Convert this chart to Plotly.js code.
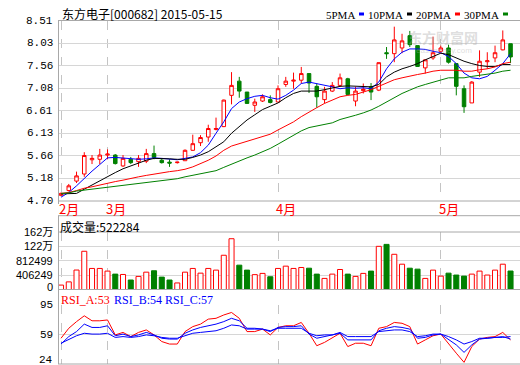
<!DOCTYPE html>
<html><head><meta charset="utf-8">
<script src="https://cdn.plot.ly/plotly-3.0.1.min.js"></script>
<style>html,body{margin:0;padding:0;background:#fff;}#chart{width:520px;height:365px;}</style>
</head><body><div id="chart"></div>
<script>
// ---- data ----
const openP  = [4.82,4.92,5.12,5.27,5.57,5.58,5.67,5.67,5.44,5.58,5.53,5.54,5.70,5.56,5.52,5.51,5.55,5.77,5.93,6.05,6.21,6.27,6.93,7.23,7.00,6.72,6.81,6.84,6.79,7.16,7.23,7.25,7.39,7.12,6.84,7.02,7.14,7.28,6.81,7.03,7.11,7.04,7.83,7.81,7.93,8.19,7.98,7.51,7.72,7.86,7.93,7.60,7.07,6.77,7.42,7.64,7.72,7.89,8.02];
const highP  = [4.88,5.06,5.32,5.73,5.67,5.80,5.79,5.69,5.67,5.63,5.67,5.80,5.87,5.60,5.58,5.53,5.79,6.10,6.09,6.31,6.46,6.84,7.42,7.32,7.00,6.86,6.95,6.93,7.14,7.32,7.41,7.53,7.39,7.18,7.11,7.21,7.39,7.30,7.11,7.18,7.19,7.62,7.95,8.38,8.23,8.29,7.98,7.68,8.17,7.98,8.00,7.61,7.14,7.23,7.88,7.84,7.98,8.30,8.02];
const lowP   = [4.80,4.90,5.08,5.21,5.48,5.48,5.58,5.47,5.42,5.48,5.42,5.50,5.58,5.49,5.42,5.49,5.55,5.76,5.86,5.95,6.19,6.26,6.74,6.88,6.75,6.58,6.79,6.76,6.79,7.11,7.07,7.18,6.98,6.67,6.76,7.00,7.11,6.93,6.70,6.97,6.83,7.02,7.70,7.63,7.82,7.95,7.53,7.39,7.68,7.81,7.60,6.93,6.56,6.77,7.32,7.49,7.63,7.88,7.61];
const closeP = [4.86,5.02,5.23,5.66,5.60,5.67,5.69,5.49,5.60,5.51,5.60,5.70,5.62,5.51,5.50,5.52,5.77,5.91,6.04,6.23,6.23,6.83,7.14,7.02,6.76,6.79,6.90,6.78,7.07,7.23,7.25,7.39,7.19,6.90,7.02,7.14,7.30,6.95,7.02,7.06,7.00,7.62,7.81,8.10,8.08,8.00,7.54,7.68,7.83,7.93,7.63,7.12,6.69,7.21,7.65,7.66,7.83,8.10,7.74];
const ma5  = [4.78,4.88,5.02,5.18,5.33,5.47,5.61,5.62,5.61,5.60,5.58,5.59,5.61,5.60,5.58,5.57,5.60,5.63,5.72,5.88,6.13,6.37,6.65,6.79,6.86,6.91,6.93,6.88,6.85,6.93,7.04,7.18,7.21,7.18,7.14,7.11,7.07,7.09,7.08,7.09,7.07,7.21,7.49,7.70,7.84,7.91,7.91,7.90,7.86,7.83,7.75,7.60,7.40,7.30,7.28,7.33,7.46,7.60,7.81];
const ma10 = [4.85,4.85,4.86,4.95,5.04,5.13,5.21,5.30,5.38,5.44,5.49,5.56,5.60,5.60,5.59,5.58,5.58,5.62,5.67,5.74,5.84,5.95,6.13,6.28,6.41,6.52,6.63,6.70,6.77,6.88,6.97,7.02,7.02,7.02,7.05,7.09,7.12,7.13,7.12,7.11,7.11,7.16,7.32,7.42,7.49,7.54,7.60,7.68,7.75,7.82,7.79,7.72,7.65,7.60,7.56,7.54,7.54,7.58,7.58];
const ma20 = [4.86,4.88,4.92,4.97,5.00,5.04,5.07,5.11,5.14,5.18,5.21,5.24,5.27,5.30,5.32,5.34,5.37,5.42,5.49,5.56,5.65,5.77,5.86,5.91,5.97,6.02,6.07,6.11,6.20,6.28,6.37,6.48,6.58,6.67,6.76,6.83,6.90,6.93,6.95,7.00,7.05,7.12,7.19,7.26,7.30,7.34,7.37,7.40,7.44,7.46,7.46,7.46,7.44,7.44,7.47,7.49,7.53,7.60,7.63];
const ma30 = [4.86,4.87,4.91,4.93,4.95,4.97,4.99,5.01,5.03,5.05,5.07,5.09,5.12,5.13,5.15,5.17,5.21,5.24,5.27,5.30,5.34,5.41,5.48,5.54,5.61,5.67,5.74,5.81,5.90,5.99,6.09,6.18,6.25,6.28,6.31,6.35,6.42,6.46,6.51,6.56,6.62,6.70,6.79,6.88,6.97,7.04,7.11,7.16,7.21,7.26,7.30,7.30,7.30,7.33,7.35,7.37,7.40,7.44,7.46];
const volume = [125000,215000,550000,1080000,595000,595000,520000,435000,425000,268000,370000,490000,530000,350000,268000,185000,490000,595000,462000,595000,548000,968000,1435000,688000,548000,420000,455000,360000,595000,660000,595000,622000,602000,435000,313000,435000,565000,435000,370000,455000,520000,1220000,1275000,995000,715000,602000,575000,313000,548000,378000,462000,408000,378000,435000,520000,408000,548000,715000,522284];
const rsiA = [55,67,75,82,76,76,77,59,62,57,62,65,59,51,48,48,63,69,72,78,79,83,86,79,63,63,66,59,68,70,70,74,61,46,50,55,61,45,49,49,46,67,69,74,73,69,48,53,58,60,48,37,26,45,54,56,57,62,53];
const rsiB = [48,57,63,72,68,68,70,58,60,57,59,62,59,55,54,54,61,65,68,70,72,75,79,76,67,67,66,63,68,69,69,70,60,55,57,59,61,53,53,53,53,64,67,69,68,66,55,56,59,60,54,47,38,47,54,55,56,57,54];
const rsiC = [49,54,58,61,60,60,61,56,57,56,57,59,58,56,55,55,58,61,62,63,64,67,71,70,66,66,66,64,67,67,67,67,61,58,59,59,62,57,57,57,57,63,64,65,65,63,57,58,60,60,57,53,48,51,55,55,56,56,57];
const monthStart  = [0,6,28,49];
const monthLabels = ['2月','3月','4月','5月'];
const priceTicks  = ['4.70','5.18','5.66','6.13','6.61','7.08','7.56','8.03','8.51'];
const volTickVals = [0,406249,812499,1218748,1624997];
const volTickText = ['0','406249','812499','122万','162万'];
const rsiTicks    = [24,59,95];
const titleText = '东方电子[000682] 2015-05-15';
const volHeader = '成交量:522284';
const maNames = ['5PMA','10PMA','20PMA','30PMA'];

// ---- helpers ----
const W = 520, H = 365;
const px = x => x / W;
const py = y => 1 - y / H;
const idx = openP.map((_, i) => i);
const RED = '#ff0000', GREEN = '#008000', BLUE = '#0000ff', BLACK = '#000000';
const maColors = [BLUE, BLACK, RED, GREEN];
const up = closeP.map((c, i) => c >= openP[i]);
const xr = [-0.39, 59.22];
const MONO = 'Liberation Mono, DejaVu Sans Mono, monospace';
const CJK = 'Noto Sans CJK SC, sans-serif';

const data = [];
data.push({type:'candlestick', x:idx, open:openP, high:highP, low:lowP, close:closeP, xaxis:'x', yaxis:'y',
  increasing:{line:{color:RED, width:1}, fillcolor:'#ffffff'},
  decreasing:{line:{color:GREEN, width:1}, fillcolor:GREEN},
  whiskerwidth:0, hoverinfo:'skip'});
[ma5, ma10, ma20, ma30].forEach((m, k) => data.push({type:'scatter', mode:'lines', x:idx, y:m, xaxis:'x', yaxis:'y',
  line:{color:maColors[k], width:1}, hoverinfo:'skip'}));
data.push({type:'bar', x:idx, y:volume, xaxis:'x2', yaxis:'y2', width:0.65,
  marker:{color:up.map(u => u ? '#ffffff' : GREEN), line:{color:up.map(u => u ? RED : GREEN), width:1}}, hoverinfo:'skip'});
[[rsiA, RED], [rsiB, BLUE], [rsiC, BLUE]].forEach(([r, c]) => data.push({type:'scatter', mode:'lines', x:idx, y:r,
  xaxis:'x3', yaxis:'y3', line:{color:c, width:1}, hoverinfo:'skip'}));

const xBase = {range:xr, showticklabels:false, tickvals:monthStart, showgrid:true, gridcolor:'#c4c4c4',
  griddash:'dash', gridwidth:1, zeroline:false, showline:false, ticks:'', fixedrange:true};
const yBase = {showticklabels:false, showgrid:true, gridcolor:'#d6d6d6', gridwidth:1, zeroline:false, showline:false, ticks:'', fixedrange:true};

const layout = {
  width:W, height:H, margin:{l:0, r:0, t:0, b:0}, paper_bgcolor:'#ffffff', plot_bgcolor:'#ffffff',
  showlegend:false, boxgap:0.35, bargap:0,
  xaxis:  Object.assign({}, xBase, {domain:[px(58), 1], anchor:'y', rangeslider:{visible:false}}),
  xaxis2: Object.assign({}, xBase, {domain:[px(58), 1], anchor:'y2'}),
  xaxis3: Object.assign({}, xBase, {domain:[px(58), 1], anchor:'y3'}),
  yaxis:  Object.assign({}, yBase, {domain:[py(201), py(20.5)], range:[4.70, 8.51], tickvals:priceTicks.map(Number), anchor:'x'}),
  yaxis2: Object.assign({}, yBase, {domain:[py(289.5), py(232)], range:[0, volTickVals[4]], tickvals:volTickVals, anchor:'x2'}),
  yaxis3: Object.assign({}, yBase, {domain:[py(364), py(305)], range:[24, 95], tickvals:rsiTicks, anchor:'x3'}),
  annotations:[], shapes:[]
};

const ann = layout.annotations, shp = layout.shapes;
// watermark (drawn first, faint)
ann.push({xref:'paper', yref:'paper', x:px(480), y:py(25), text:'<b>东方财富网</b>', showarrow:false,
  font:{family:CJK, size:14, color:'rgba(170,170,170,0.4)'}});
ann.push({xref:'paper', yref:'paper', x:px(474), y:py(44), text:'eastmoney.com', showarrow:false,
  font:{family:'Liberation Sans, sans-serif', size:8, color:'rgba(170,170,170,0.4)'}});
// tick labels
priceTicks.forEach(t => ann.push({xref:'paper', yref:'y', x:px(55), y:Number(t), text:t, showarrow:false,
  xanchor:'right', yanchor:'middle', font:{family:MONO, size:11, color:'#000'}}));
volTickVals.forEach((v, k) => ann.push({xref:'paper', yref:'y2', x:px(55), y:v, text:volTickText[k], showarrow:false,
  xanchor:'right', yanchor:'middle', yshift:(k === 0 ? 3 : 0), font:{family:'Liberation Sans, ' + CJK, size:11, color:'#000'}}));
rsiTicks.forEach((v, k) => ann.push({xref:'paper', yref:'y3', x:px(55), y:v, text:String(v), showarrow:false,
  xanchor:'right', yanchor:'middle', yshift:(k === 0 ? 4 : 0), font:{family:MONO, size:11, color:'#000'}}));
// month labels
monthStart.forEach((m, k) => ann.push({xref:'x', yref:'paper', x:m, y:py(208.5), text:monthLabels[k], showarrow:false,
  xanchor:'left', yanchor:'middle', xshift:-4, font:{family:CJK, size:13, color:RED}}));
// headers
ann.push({xref:'paper', yref:'paper', x:px(60), y:py(14), text:titleText, showarrow:false, xanchor:'left', yanchor:'middle',
  font:{family:CJK, size:12, color:'#000'}});
ann.push({xref:'paper', yref:'paper', x:px(58), y:py(226), text:volHeader, showarrow:false, xanchor:'left', yanchor:'middle',
  font:{family:CJK, size:12, color:'#000'}});
ann.push({xref:'paper', yref:'paper', x:px(59), y:py(300), text:'RSI_A:' + rsiA[rsiA.length - 1], showarrow:false,
  xanchor:'left', yanchor:'middle', font:{family:'Liberation Serif, serif', size:12, color:RED}});
ann.push({xref:'paper', yref:'paper', x:px(112), y:py(300),
  text:'RSI_B:' + rsiB[rsiB.length - 1] + ' RSI_C:' + rsiC[rsiC.length - 1], showarrow:false,
  xanchor:'left', yanchor:'middle', font:{family:'Liberation Serif, serif', size:12, color:BLUE}});
// MA legend
const sqX = [359, 407, 455, 503];
maNames.forEach((n, k) => {
  ann.push({xref:'paper', yref:'paper', x:px(sqX[k] - 2), y:py(14.5), text:n, showarrow:false, xanchor:'right', yanchor:'middle',
    font:{family:'Liberation Serif, serif', size:11, color:'#000'}});
  shp.push({type:'rect', xref:'paper', yref:'paper', x0:px(sqX[k]), x1:px(sqX[k] + 5), y0:py(15.5), y1:py(12.5),
    fillcolor:maColors[k], line:{width:0}});
});
// panel borders
const BORDER = '#a8a8a8';
[[20.5], [201], [215.7], [232], [289.5], [364]].forEach(([y]) => shp.push({type:'line', xref:'paper', yref:'paper',
  x0:px(58), x1:1, y0:py(y), y1:py(y), line:{color:BORDER, width:1}}));
[[20.5, 204], [215.7, 364]].forEach(([a, b]) => shp.push({type:'line', xref:'paper', yref:'paper',
  x0:px(58.5), x1:px(58.5), y0:py(a), y1:py(b), line:{color:BORDER, width:1}}));

Plotly.newPlot('chart', data, layout, {staticPlot:true, displayModeBar:false});
</script></body></html>
